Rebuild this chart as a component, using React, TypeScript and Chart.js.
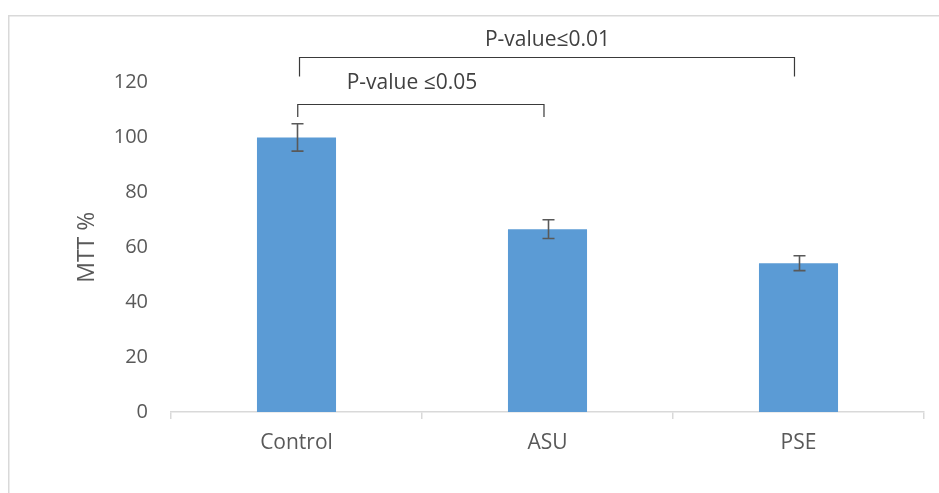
import React, { useEffect, useRef } from "react";
import { Chart, registerables } from "chart.js";

Chart.register(...registerables);

const categories = ["Control", "ASU", "PSE"];
const mttValues = [100, 66.6, 54.2];
const mttErrors = [5, 3.4, 2.7];
const yTicksMin = 0;
const yTicksMax = 120;
const yTickStep = 20;

// significance brackets (category index positions and y values in data units)
const bracketLabels = ["P-value ≤0.05", "P-value≤0.01"];
const bracketFrom = [0.005, 0.012];
const bracketTo = [0.986, 1.984];
const bracketLevel = [112.3, 129.4];
const bracketEnd = [107.4, 122.2];
const bracketTextX = [0.46, 1.0];
const bracketTextY = [119.8, 135.4];

const FONT = "'Open Sans', 'DejaVu Sans', sans-serif";
const TEXT = "#595959";

const decorPlugin = {
  id: "decor",
  beforeDraw(chart: any) {
    const ctx = chart.ctx;
    ctx.save();
    ctx.strokeStyle = "#d9d9d9";
    ctx.lineWidth = 1.5;
    ctx.beginPath();
    ctx.moveTo(8.75, chart.height);
    ctx.lineTo(8.75, 15.75);
    ctx.lineTo(chart.width, 15.75);
    ctx.stroke();
    ctx.restore();
  },
  afterDatasetsDraw(chart: any) {
    const ctx = chart.ctx;
    const meta = chart.getDatasetMeta(0);
    const ys = chart.scales.y;
    const xs = chart.scales.x;
    ctx.save();
    // error bars
    ctx.strokeStyle = "#595959";
    ctx.lineWidth = 1.6;
    meta.data.forEach((bar: any, i: number) => {
      const x = Math.round(bar.x) + 0.5;
      const yt = ys.getPixelForValue(mttValues[i] + mttErrors[i]);
      const yb = ys.getPixelForValue(mttValues[i] - mttErrors[i]);
      ctx.beginPath();
      ctx.moveTo(x, yt);
      ctx.lineTo(x, yb);
      ctx.moveTo(x - 6, yt);
      ctx.lineTo(x + 6, yt);
      ctx.moveTo(x - 6, yb);
      ctx.lineTo(x + 6, yb);
      ctx.stroke();
    });
    // brackets
    ctx.strokeStyle = "#3a3a3a";
    ctx.lineWidth = 1.2;
    ctx.fillStyle = "#404040";
    ctx.font = `21px ${FONT}`;
    ctx.textAlign = "center";
    ctx.textBaseline = "middle";
    bracketLabels.forEach((label, i) => {
      const x1 = xs.getPixelForValue(bracketFrom[i]);
      const x2 = xs.getPixelForValue(bracketTo[i]);
      const yl = Math.round(ys.getPixelForValue(bracketLevel[i])) + 0.5;
      const ye = ys.getPixelForValue(bracketEnd[i]);
      ctx.beginPath();
      ctx.moveTo(x1, ye);
      ctx.lineTo(x1, yl);
      ctx.lineTo(x2, yl);
      ctx.lineTo(x2, ye);
      ctx.stroke();
      ctx.fillText(label, xs.getPixelForValue(bracketTextX[i]), ys.getPixelForValue(bracketTextY[i]));
    });
    ctx.restore();
  },
};

export default function App() {
  const ref = useRef<HTMLCanvasElement | null>(null);
  useEffect(() => {
    if (!ref.current) return;
    const chart = new Chart(ref.current, {
      type: "bar",
      data: {
        labels: categories,
        datasets: [
          {
            label: "MTT %",
            data: mttValues,
            backgroundColor: "#5b9bd5",
            borderWidth: 0,
            categoryPercentage: 1,
            barPercentage: 0.315,
          },
        ],
      },
      options: {
        animation: false,
        responsive: true,
        maintainAspectRatio: false,
        layout: { padding: { left: 70, top: 82.5, right: 15, bottom: 31 } },
        plugins: { legend: { display: false }, tooltip: { enabled: false } },
        scales: {
          x: {
            afterFit: (s: any) => {
              s.height = 50;
            },
            grid: {
              display: true,
              drawOnChartArea: false,
              drawTicks: true,
              tickLength: 7,
              color: "#d9d9d9",
              lineWidth: 1.5,
            },
            border: { display: true, color: "#d9d9d9", width: 1.5 },
            ticks: { color: TEXT, font: { family: FONT, size: 21 }, padding: 11 },
          },
          y: {
            min: yTicksMin,
            max: yTicksMax,
            afterFit: (s: any) => {
              s.width = 101;
            },
            grid: { display: false, drawTicks: false },
            border: { display: false },
            ticks: {
              stepSize: yTickStep,
              color: TEXT,
              font: { family: FONT, size: 20 },
              padding: 23,
            },
            title: {
              display: true,
              text: "MTT %",
              color: TEXT,
              font: { family: FONT, size: 23 },
              padding: { top: 4, bottom: 0 },
            },
          },
        },
      },
      plugins: [decorPlugin],
    });
    return () => chart.destroy();
  }, []);
  return (
    <div style={{ position: "fixed", left: 0, top: 0, width: 939, height: 493, background: "#fff" }}>
      <canvas ref={ref} />
    </div>
  );
}
